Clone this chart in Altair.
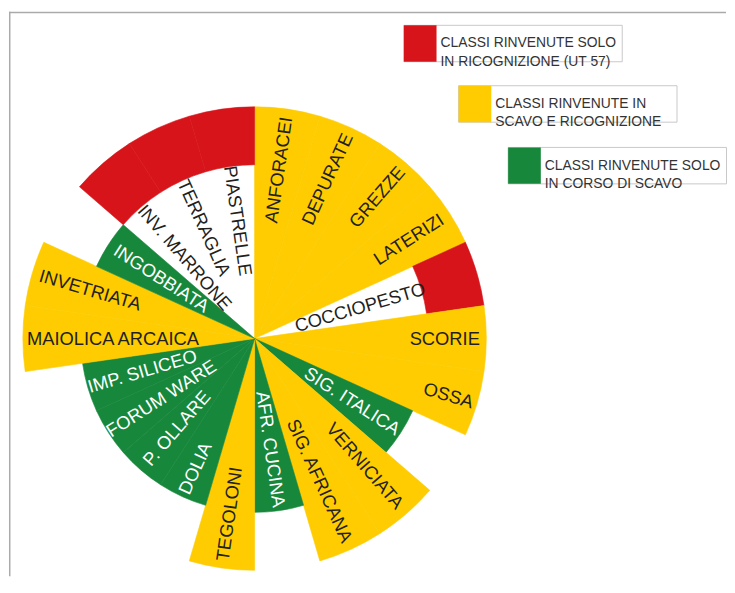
import math
import altair as alt
import pandas as pd

# ---- data -------------------------------------------------------------
categories = ["ANFORACEI", "DEPURATE", "GREZZE", "LATERIZI", "COCCIOPESTO", "SCORIE",
              "OSSA", "SIG. ITALICA", "VERNICIATA", "SIG. AFRICANA", "AFR. CUCINA",
              "TEGOLONI", "DOLIA", "P. OLLARE", "FORUM WARE", "IMP. SILICEO",
              "MAIOLICA ARCAICA", "INVETRIATA", "INGOBBIATA", "INV. MARRONE",
              "TERRAGLIA", "PIASTRELLE"]
# R = solo in ricognizione, Y = scavo e ricognizione, G = solo in corso di scavo
groups = ["Y", "Y", "Y", "Y", "R", "Y", "Y", "G", "Y", "Y", "G", "Y", "G", "G", "G",
          "G", "Y", "Y", "G", "R", "R", "R"]
# radial extent of each wedge (outer / inner), in ring units
outer_level = {"Y": 4, "G": 3, "R": 4}
inner_level = {"Y": 0, "G": 0, "R": 3}
# distance of each label from the centre (px)
label_dist = [172, 177, 189, 185, 111, 192, 204, 117, 170, 158, 113, 179, 144, 120,
              112, 118, 143, 173, 112, 108, 123, 120]

legend_lines = [["CLASSI RINVENUTE SOLO", "IN RICOGNIZIONE (UT 57)"],
                ["CLASSI RINVENUTE IN", "SCAVO E RICOGNIZIONE"],
                ["CLASSI RINVENUTE SOLO", "IN CORSO DI SCAVO"]]
legend_groups = ["R", "Y", "G"]

# ---- styling ------------------------------------------------------------
COL = {"Y": "#FECC00", "G": "#17873B", "R": "#D6141A"}
R_PX = 234.0
UNIT = R_PX / 4
CX, CY = 248, 330
W, H = 724, 570
FONT = "Liberation Sans"

n = len(categories)
rows = []
for i, (c, g) in enumerate(zip(categories, groups)):
    mid = (i + 0.5) * 360.0 / n
    ang = (mid - 90) if mid < 180 else (mid - 270)
    rows.append({
        "idx": i, "cat": c, "grp": g,
        "t0": i, "t1": i + 1, "tm": i + 0.5,
        "r_out": outer_level[g], "r_in": inner_level[g],
        "lr": label_dist[i] / UNIT,
        "ang": ang % 360,
    })
df = pd.DataFrame(rows)

rscale = alt.Scale(type="linear", domain=[0, 4], range=[0, R_PX], zero=True)
tscale = alt.Scale(type="linear", domain=[0, n], range=[0, 2 * math.pi], zero=True)
cscale = alt.Scale(domain=["Y", "G", "R"], range=[COL["Y"], COL["G"], COL["R"]])

arcs = alt.Chart(df).mark_arc(strokeWidth=0.6).encode(
    theta=alt.Theta("t0:Q", scale=tscale, stack=None),
    theta2=alt.Theta2("t1:Q"),
    radius=alt.Radius("r_out:Q", scale=rscale),
    radius2=alt.Radius2("r_in:Q"),
    fill=alt.Color("grp:N", scale=cscale, legend=None),
    stroke=alt.Color("grp:N", scale=cscale, legend=None),
    x=alt.value(CX), y=alt.value(CY),
)

labels = alt.Chart(df).mark_text(
    font=FONT, fontSize=18.5, align="center", baseline="middle"
).encode(
    theta=alt.Theta("tm:Q", scale=tscale, stack=None),
    radius=alt.Radius("lr:Q", scale=rscale),
    angle=alt.Angle("ang:Q", scale=None),
    text="cat:N",
    color=alt.condition(alt.datum.grp == "G", alt.value("#FFFFFF"), alt.value("#231F20")),
    x=alt.value(CX), y=alt.value(CY),
)

one = pd.DataFrame({"k": [0]})
layers = [arcs, labels]

# legend boxes (staggered)
box_pos = [(398.7, 13.7), (454.0, 74.7), (504.0, 137.0)]
BW, BH, SQ = 220.5, 36.8, 33.0
for (bx, by), g, lines in zip(box_pos, legend_groups, legend_lines):
    layers.append(alt.Chart(one).mark_rect(fill="white", stroke="#C8C8C8", strokeWidth=1).encode(
        x=alt.value(bx), x2=alt.value(bx + BW), y=alt.value(by), y2=alt.value(by + BH)))
    layers.append(alt.Chart(one).mark_rect(fill=COL[g]).encode(
        x=alt.value(bx), x2=alt.value(bx + SQ), y=alt.value(by), y2=alt.value(by + BH)))
    layers.append(alt.Chart(one).mark_text(
        text=lines, font=FONT, fontSize=14, lineHeight=18.3, align="left",
        baseline="middle", color="#333333").encode(
        x=alt.value(bx + SQ + 4), y=alt.value(by + BH / 2)))

# frame lines (top and left)
layers.append(alt.Chart(one).mark_rule(color="#AAAAAA", strokeWidth=1.5).encode(
    x=alt.value(0), x2=alt.value(W), y=alt.value(0.75)))
layers.append(alt.Chart(one).mark_rule(color="#AAAAAA", strokeWidth=1.5).encode(
    x=alt.value(0.75), y=alt.value(0), y2=alt.value(H)))

chart = alt.layer(*layers).properties(
    width=W, height=H, padding=0, background="white"
).configure_view(stroke=None)

chart.save("out.html", embed_options={"renderer": "svg", "actions": False})
